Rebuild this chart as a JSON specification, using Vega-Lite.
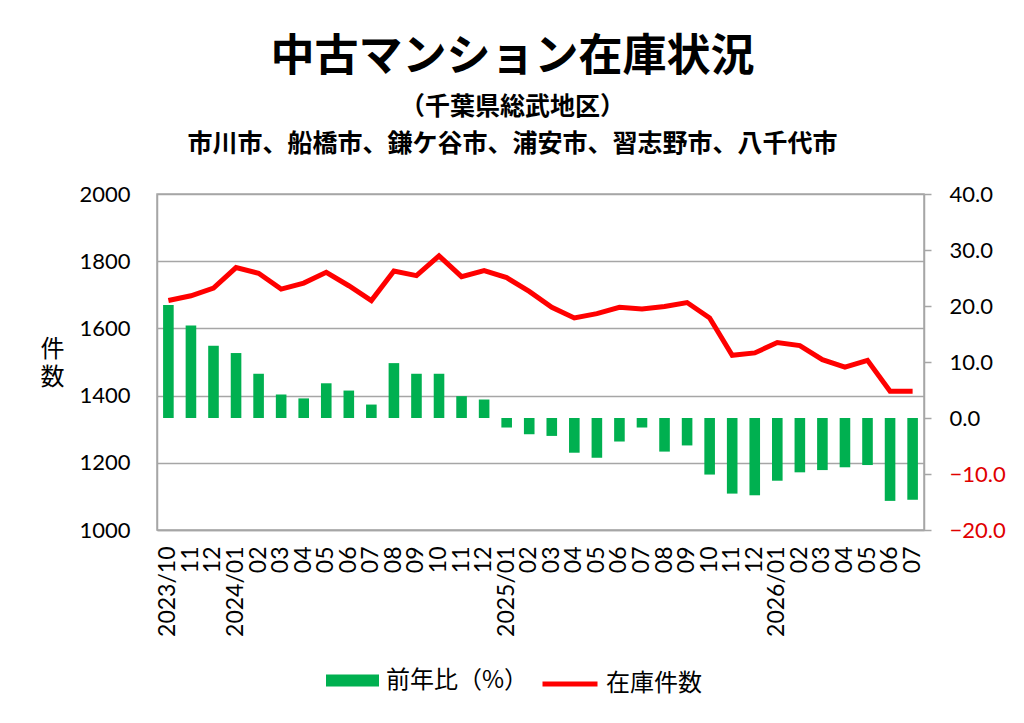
{
  "$schema": "https://vega.github.io/schema/vega-lite/v6.json",
  "autosize": {"type": "none"},
  "padding": {"left": 157, "top": 194, "right": 100, "bottom": 193},
  "width": 767,
  "height": 336,
  "background": "white",
  "title": {
    "text": "中古マンション在庫状況",
    "subtitle": ["（千葉県総武地区）", "市川市、船橋市、鎌ケ谷市、浦安市、習志野市、八千代市"],
    "anchor": "middle",
    "dx": -28,
    "offset": 26,
    "font": "Noto Sans CJK JP",
    "fontSize": 44,
    "fontWeight": 700,
    "color": "black",
    "subtitleFont": "Noto Sans CJK JP",
    "subtitleFontSize": 25,
    "subtitleFontWeight": 700,
    "subtitleColor": "black",
    "subtitlePadding": 15,
    "subtitleLineHeight": 37
  },
  "data": {
    "values": [
      {"month": "2023/10", "yoy": 20.2, "stock": 1683},
      {"month": "2023/11", "yoy": 16.5, "stock": 1697},
      {"month": "2023/12", "yoy": 12.9, "stock": 1720},
      {"month": "2024/01", "yoy": 11.6, "stock": 1781},
      {"month": "2024/02", "yoy": 7.9, "stock": 1764},
      {"month": "2024/03", "yoy": 4.2, "stock": 1717},
      {"month": "2024/04", "yoy": 3.5, "stock": 1735},
      {"month": "2024/05", "yoy": 6.2, "stock": 1767},
      {"month": "2024/06", "yoy": 4.9, "stock": 1727},
      {"month": "2024/07", "yoy": 2.4, "stock": 1683},
      {"month": "2024/08", "yoy": 9.8, "stock": 1771},
      {"month": "2024/09", "yoy": 7.9, "stock": 1757},
      {"month": "2024/10", "yoy": 7.9, "stock": 1816},
      {"month": "2024/11", "yoy": 3.9, "stock": 1754},
      {"month": "2024/12", "yoy": 3.3, "stock": 1772},
      {"month": "2025/01", "yoy": -1.7, "stock": 1751},
      {"month": "2025/02", "yoy": -2.9, "stock": 1710},
      {"month": "2025/03", "yoy": -3.2, "stock": 1663},
      {"month": "2025/04", "yoy": -6.2, "stock": 1631},
      {"month": "2025/05", "yoy": -7.1, "stock": 1644},
      {"month": "2025/06", "yoy": -4.2, "stock": 1663},
      {"month": "2025/07", "yoy": -1.7, "stock": 1658},
      {"month": "2025/08", "yoy": -6.0, "stock": 1665},
      {"month": "2025/09", "yoy": -4.9, "stock": 1677},
      {"month": "2025/10", "yoy": -10.1, "stock": 1631},
      {"month": "2025/11", "yoy": -13.5, "stock": 1520},
      {"month": "2025/12", "yoy": -13.8, "stock": 1527},
      {"month": "2026/01", "yoy": -11.2, "stock": 1558},
      {"month": "2026/02", "yoy": -9.7, "stock": 1549},
      {"month": "2026/03", "yoy": -9.3, "stock": 1507},
      {"month": "2026/04", "yoy": -8.8, "stock": 1485},
      {"month": "2026/05", "yoy": -8.4, "stock": 1505},
      {"month": "2026/06", "yoy": -14.8, "stock": 1413},
      {"month": "2026/07", "yoy": -14.6, "stock": 1413}
    ]
  },
  "encoding": {
    "x": {
      "field": "month",
      "type": "ordinal",
      "sort": null,
      "scale": {"paddingInner": 0.53, "paddingOuter": 0.27},
      "axis": {
        "title": null,
        "labelAngle": -90,
        "labelPadding": 16,
        "labelFontSize": 23,
        "ticks": false,
        "labelExpr": "(datum.value == '2023/10' || substring(datum.value, 5, 7) == '01') ? datum.value : substring(datum.value, 5, 7)"
      }
    }
  },
  "layer": [
    {
      "mark": {"type": "bar"},
      "encoding": {
        "y": {
          "field": "yoy",
          "type": "quantitative",
          "scale": {"domain": [-20, 40], "nice": false, "zero": true},
          "axis": {
            "orient": "right",
            "title": null,
            "values": [-20, -10, 0, 10, 20, 30, 40],
            "format": ".1f",
            "grid": false,
            "ticks": true,
            "tickSize": 7,
            "labelPadding": 18,
            "labelColor": {"condition": {"test": "datum.value < 0", "value": "#e00000"}, "value": "black"}
          }
        },
        "fill": {
          "datum": "前年比（%）",
          "scale": {"range": ["#00b050"]},
          "legend": {
            "orient": "none",
            "legendX": 169,
            "legendY": 460,
            "title": null,
            "symbolType": "M-1,-0.23H1V0.23H-1Z",
            "symbolSize": 2809,
            "symbolStrokeWidth": 0,
            "labelOffset": 7
          }
        }
      }
    },
    {
      "mark": {"type": "line", "strokeWidth": 5},
      "encoding": {
        "y": {
          "field": "stock",
          "type": "quantitative",
          "scale": {"domain": [1000, 2000], "nice": false, "zero": false},
          "axis": {
            "orient": "left",
            "title": ["件", "数"],
            "titleAngle": 0,
            "titleX": -105,
            "titleY": 155,
            "titleAlign": "center",
            "titleBaseline": "middle",
            "titleFont": "Noto Sans CJK JP",
            "titleFontSize": 24,
            "titleFontWeight": "normal",
            "titleLineHeight": 28,
            "values": [1000, 1200, 1400, 1600, 1800, 2000],
            "format": "d",
            "grid": true,
            "ticks": false,
            "labelPadding": 27
          }
        },
        "stroke": {
          "datum": "在庫件数",
          "scale": {"range": ["#ff0000"]},
          "legend": {
            "orient": "none",
            "legendX": 383,
            "legendY": 460,
            "title": null,
            "symbolType": "stroke",
            "symbolSize": 3025,
            "symbolStrokeWidth": 5,
            "labelOffset": 6
          }
        }
      }
    }
  ],
  "resolve": {"scale": {"y": "independent", "fill": "independent", "stroke": "independent"}},
  "config": {
    "view": {"stroke": "#a6a6a6", "strokeWidth": 1.5},
    "axis": {
      "labelFont": "Lato",
      "labelFontSize": 22,
      "labelColor": "black",
      "domainColor": "#a6a6a6",
      "domainWidth": 1.5,
      "tickColor": "#a6a6a6",
      "tickWidth": 1.5,
      "gridColor": "#a6a6a6",
      "gridWidth": 1.5
    },
    "legend": {
      "labelFont": "Noto Sans CJK JP",
      "labelFontSize": 24,
      "labelColor": "black",
      "labelLimit": 300
    }
  }
}
